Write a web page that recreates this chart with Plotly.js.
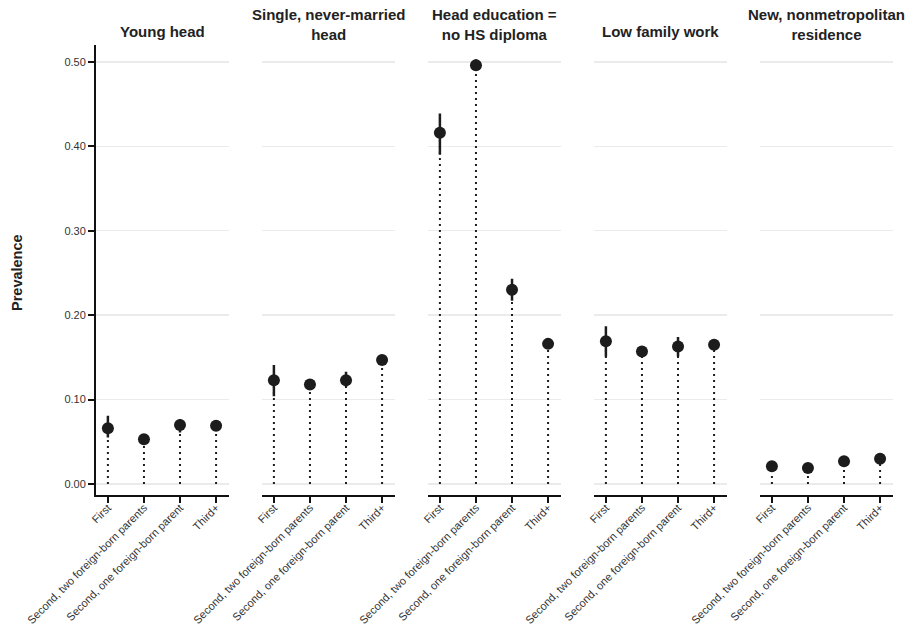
<!DOCTYPE html>
<html>
<head>
<meta charset="utf-8">
<script src="https://cdn.plot.ly/plotly-3.0.1.min.js"></script>
<style>html,body{margin:0;padding:0;background:#fff;}#chart{width:907px;height:629px;}</style>
</head>
<body>
<div id="chart"></div>
<script>
// ---- data ----
const categories = ["First", "Second, two foreign-born parents", "Second, one foreign-born parent", "Third+"];
const panelTitles = ["Young head", "Single, never-married<br>head", "Head education =<br>no HS diploma", "Low family work", "New, nonmetropolitan<br>residence"];

const youngHeadEst   = [0.066, 0.053, 0.070, 0.069];
const youngHeadLow   = [0.055, 0.051, 0.061, 0.066];
const youngHeadHigh  = [0.081, 0.056, 0.077, 0.072];

const singleEst      = [0.123, 0.118, 0.123, 0.147];
const singleLow      = [0.104, 0.113, 0.115, 0.143];
const singleHigh     = [0.141, 0.124, 0.133, 0.151];

const noDiplomaEst   = [0.416, 0.496, 0.230, 0.166];
const noDiplomaLow   = [0.390, 0.490, 0.217, 0.162];
const noDiplomaHigh  = [0.439, 0.503, 0.243, 0.170];

const lowWorkEst     = [0.169, 0.157, 0.163, 0.165];
const lowWorkLow     = [0.151, 0.151, 0.151, 0.160];
const lowWorkHigh    = [0.187, 0.162, 0.174, 0.170];

const nonMetroEst    = [0.021, 0.019, 0.027, 0.030];
const nonMetroLow    = [0.018, 0.017, 0.023, 0.027];
const nonMetroHigh   = [0.024, 0.022, 0.031, 0.033];

const yTickVals = [0, 0.1, 0.2, 0.3, 0.4, 0.5];

const panels = [
  {est: youngHeadEst, low: youngHeadLow, high: youngHeadHigh},
  {est: singleEst, low: singleLow, high: singleHigh},
  {est: noDiplomaEst, low: noDiplomaLow, high: noDiplomaHigh},
  {est: lowWorkEst, low: lowWorkLow, high: lowWorkHigh},
  {est: nonMetroEst, low: nonMetroLow, high: nonMetroHigh}
];

// ---- layout geometry ----
const W = 907, H = 629;
const panelLeft = [96, 262, 428, 594, 760];
const panelWidth = 132.7;
const plotTop = 45, plotBottom = 495;
const ink = "#1c1c1c";
const font = "Liberation Sans, Arial, Helvetica, sans-serif";

const traces = [];
const layout = {
  width: W, height: H,
  margin: {l: 0, r: 0, t: 0, b: 0},
  paper_bgcolor: "#fff", plot_bgcolor: "#fff",
  showlegend: false,
  font: {family: font, color: "#333", size: 11},
  annotations: []
};

panels.forEach((p, i) => {
  const n = i + 1;
  const xa = n === 1 ? "x" : "x" + n;
  const ya = n === 1 ? "y" : "y" + n;
  // dotted stems from 0 to estimate
  const sx = [], sy = [];
  categories.forEach((c, j) => { sx.push(c, c, null); sy.push(0, p.est[j], null); });
  traces.push({
    type: "scatter", mode: "lines", x: sx, y: sy, xaxis: xa, yaxis: ya,
    line: {color: ink, width: 2, dash: "2px,4px"}, hoverinfo: "skip"
  });
  traces.push({
    type: "scatter", mode: "markers", x: categories, y: p.est, xaxis: xa, yaxis: ya,
    marker: {size: 12, color: ink},
    error_y: {
      type: "data", symmetric: false,
      array: p.high.map((h, j) => h - p.est[j]),
      arrayminus: p.est.map((e, j) => e - p.low[j]),
      color: ink, thickness: 2.5, width: 0
    }
  });
  const x0 = panelLeft[i] / W, x1 = (panelLeft[i] + panelWidth) / W;
  layout["xaxis" + (n === 1 ? "" : n)] = {
    domain: [x0, x1], anchor: ya,
    type: "category", categoryorder: "array", categoryarray: categories,
    range: [-0.33, 3.35],
    showline: true, linecolor: "#111", linewidth: 2,
    ticks: "outside", ticklen: 6, tickwidth: 2, tickcolor: "#111",
    tickangle: -45, tickfont: {family: font, size: 11.1, color: "#333"},
    ticklabelstandoff: -6,
    showgrid: false, zeroline: false, fixedrange: true
  };
  layout["yaxis" + (n === 1 ? "" : n)] = {
    domain: [1 - plotBottom / H, 1 - plotTop / H], anchor: xa,
    range: [-0.013, 0.52],
    tickvals: yTickVals, tickformat: ".2f",
    showgrid: true, gridcolor: "#ebebeb", gridwidth: 1.5,
    zeroline: false,
    showline: n === 1, linecolor: "#111", linewidth: 2,
    ticks: n === 1 ? "outside" : "", ticklen: 6, tickwidth: 2, tickcolor: "#111",
    showticklabels: n === 1, tickfont: {family: font, size: 11, color: "#333"},
    fixedrange: true
  };
  const twoLines = panelTitles[i].indexOf("<br>") >= 0;
  layout.annotations.push({
    text: "<b>" + panelTitles[i].split("<br>").join("</b><br><b>") + "</b>",
    xref: "paper", yref: "paper",
    x: (x0 + x1) / 2, y: 1 - (twoLines ? 45 : 42) / H,
    xanchor: "center", yanchor: "bottom", align: "center",
    showarrow: false, font: {family: font, size: 15, color: "#222"}
  });
});

layout.annotations.push({
  text: "<b>Prevalence</b>", xref: "paper", yref: "paper",
  x: 17 / W, y: 1 - 273 / H, xanchor: "center", yanchor: "middle",
  textangle: -90, showarrow: false, font: {family: font, size: 14.5, color: "#222"}
});

Plotly.newPlot("chart", traces, layout, {displayModeBar: false, staticPlot: true});
</script>
</body>
</html>
